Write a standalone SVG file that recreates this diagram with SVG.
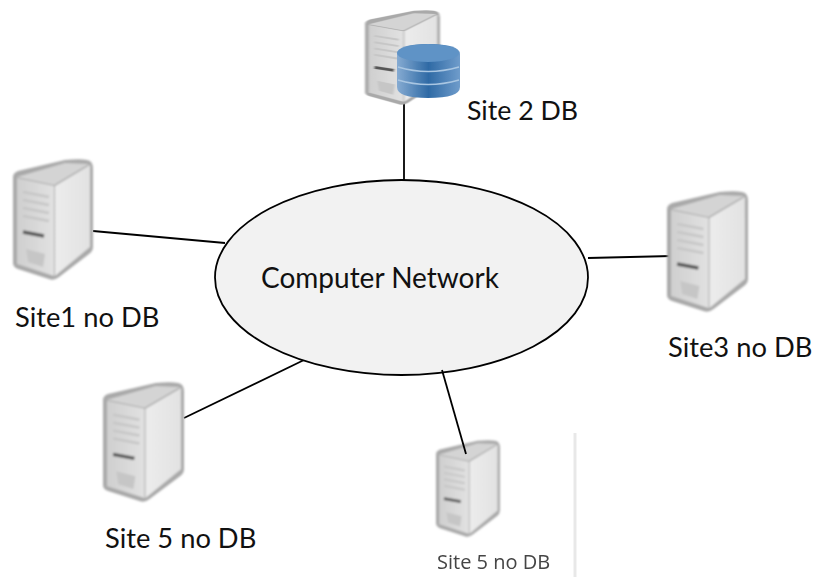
<svg xmlns="http://www.w3.org/2000/svg" width="814" height="577" viewBox="0 0 814 577">
<style>
.lbl{font-family:"Lato","Liberation Sans",sans-serif;font-size:27.300px;fill:#111}
.cn{fill:none;stroke:#000;stroke-width:1.800}
</style>
<defs>
<filter id="b" x="-10%" y="-10%" width="120%" height="120%"><feGaussianBlur stdDeviation="1"/></filter>
<filter id="b2" x="-10%" y="-10%" width="120%" height="120%"><feGaussianBlur stdDeviation="0.4"/></filter>
<linearGradient id="fr" x1="0" y1="0" x2="1" y2="0"><stop offset="0" stop-color="#cfcfcf"/><stop offset="1" stop-color="#e2e2e2"/></linearGradient>
<linearGradient id="rs" x1="0" y1="0" x2="1" y2="0"><stop offset="0" stop-color="#ececec"/><stop offset="1" stop-color="#e2e2e2"/></linearGradient>
<linearGradient id="db" x1="0" y1="0" x2="1" y2="0"><stop offset="0" stop-color="#86abd2"/><stop offset=".5" stop-color="#2f6aa5"/><stop offset="1" stop-color="#6f9ccb"/></linearGradient>
<symbol id="server" viewBox="0 0 80 121" preserveAspectRatio="none" overflow="visible">
<g filter="url(#b)">
<path d="M0 18Q0 14 5 12L52 1Q75 -1 78 3Q80 5 80 10V88Q80 92 76 95L46 118Q41 122 36 120L5 110Q0 108 0 104Z" fill="#a9a9a9"/>
<path d="M4 18L52 4L76 5L41 26Z" fill="#d4d4d4"/>
<path d="M4 19L41 27V117L4 105Z" fill="url(#fr)"/>
<path d="M42 27L77 6V88L42 117Z" fill="url(#rs)"/>
<path d="M10 33L36 38M10 41L36 46M10 49L36 54M10 57L36 62" stroke="#c6c6c6" stroke-width="2.500" fill="none"/>
<path d="M10 73L31 77" stroke="#555" stroke-width="3.500" fill="none"/>
<path d="M13 90L32 95L30 108L15 103Z" fill="#c6c6c6"/>
</g>
</symbol>
</defs>
<g id="connectors">
<line class="cn" x1="404" y1="98" x2="404" y2="181"/>
<line class="cn" x1="93" y1="231" x2="225" y2="243"/>
<line class="cn" x1="588" y1="258" x2="672" y2="256"/>
<line class="cn" x1="184" y1="418" x2="304" y2="360"/>
</g>
<g id="network">
<ellipse cx="401.500" cy="277.500" rx="186.500" ry="97.500" fill="#f2f2f2" stroke="#000" stroke-width="1.800"/>
<text class="lbl" style="font-size:28px" x="261" y="288">Computer Network</text>
</g>
<g id="site2">
<use href="#server" x="365" y="10" width="75" height="95"/>
<g filter="url(#b2)">
<path d="M397 54Q397 44 428 44Q460 44 460 54V87Q460 98 428 98Q397 98 397 87Z" fill="url(#db)"/>
<ellipse cx="428" cy="53" rx="31" ry="9" fill="#5f93c6"/>
<path d="M398 67Q428 76 459 67M398 80Q428 89 459 80" stroke="#a9c6e2" stroke-width="1.500" fill="none"/>
</g>
<text class="lbl" style="font-size:26.700px" x="467" y="120">Site 2 DB</text>
</g>
<g id="site1">
<use href="#server" x="13" y="159" width="80" height="121"/>
<text class="lbl" x="15" y="327">Site1 no DB</text>
</g>
<g id="site3">
<use href="#server" x="667" y="191" width="81" height="121"/>
<text class="lbl" x="668" y="357">Site3 no DB</text>
</g>
<g id="site5a">
<use href="#server" x="103" y="382" width="81" height="120"/>
<text class="lbl" x="105" y="548">Site 5 no DB</text>
</g>
<g id="site5b">
<use href="#server" x="436" y="440" width="64" height="97"/>
<line class="cn" x1="442" y1="370" x2="466" y2="454"/>
<text x="437" y="569" filter="url(#b2)" font-family="'Open Sans','Liberation Sans',sans-serif" font-size="20" fill="#444">Site 5 no DB</text>
</g>
<line id="divider" x1="575" y1="433" x2="575" y2="577" stroke="#e8e8e8" stroke-width="3"/>
</svg>
